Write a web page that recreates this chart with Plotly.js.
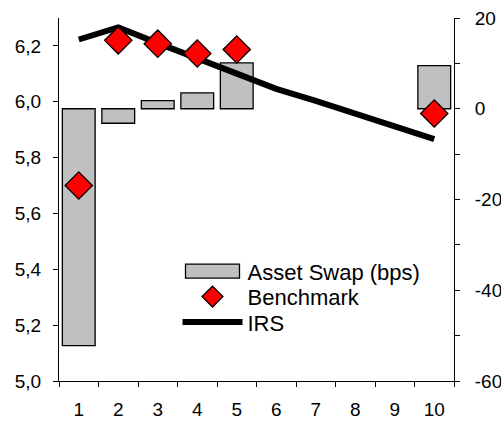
<!DOCTYPE html>
<html>
<head>
<meta charset="utf-8">
<script src="https://cdn.plot.ly/plotly-3.0.1.min.js"></script>
<style>html,body{margin:0;padding:0;background:#fff;}#chart{width:501px;height:423px;}</style>
</head>
<body>
<div id="chart"></div>
<script>
var categories = ['1','2','3','4','5','6','7','8','9','10'];
var assetSwap = [-52.2, -3.2, 1.8, 3.5, 10.1, null, null, null, null, 9.5];
var benchmark = [5.70, 6.22, 6.208, 6.173, 6.187, null, null, null, null, 5.958];
var irs = [6.223, 6.266, 6.21, 6.154, 6.099, 6.046, 6.003, 5.958, 5.912, 5.866];
var rightTicks = [-60, -50, -40, -30, -20, -10, 0, 10, 20];
var rightTickText = ['-60', '', '-40', '', '-20', '', '0', '', '20'];

var font = 'Liberation Sans, Arial, sans-serif';

var traces = [
  {
    type: 'bar', name: 'Asset Swap (bps)', x: categories, y: assetSwap,
    xaxis: 'x', yaxis: 'y',
    marker: {color: '#c0c0c0', line: {color: '#000', width: 1.3}},
    legendrank: 1
  },
  {
    type: 'scatter', mode: 'lines', name: 'IRS', x: categories, y: irs,
    xaxis: 'x', yaxis: 'y2',
    line: {color: '#000', width: 6},
    legendrank: 3
  },
  {
    type: 'scatter', mode: 'markers', name: 'Benchmark', x: categories, y: benchmark,
    xaxis: 'x', yaxis: 'y2',
    marker: {symbol: 'diamond', size: 21, color: '#ff0000', line: {color: '#000', width: 1.3}},
    legendrank: 2
  }
];

var layout = {
  width: 501, height: 423,
  margin: {l: 59, r: 47, t: 18, b: 42},
  paper_bgcolor: '#fff', plot_bgcolor: '#fff',
  separators: ',.',
  font: {family: font, size: 19, color: '#000'},
  bargap: 0.17,
  showlegend: true,
  legend: {
    x: 0.3, y: 0.36, xanchor: 'left', yanchor: 'top',
    bgcolor: 'rgba(0,0,0,0)', borderwidth: 0,
    font: {family: font, size: 22, color: '#000'},
    itemwidth: 60, tracegroupgap: 0
  },
  xaxis: {
    type: 'category', categoryorder: 'array', categoryarray: categories,
    range: [-0.5, 9.5], fixedrange: true,
    showgrid: false, zeroline: false,
    showline: true, linecolor: '#000', linewidth: 1,
    ticks: 'outside', ticklen: 5, tickcolor: '#000', tickson: 'boundaries',
    ticklabelstandoff: 11,
    tickfont: {family: font, size: 19}
  },
  yaxis: {
    side: 'right', range: [-60, 20],
    tickvals: rightTicks, ticktext: rightTickText,
    showgrid: false, zeroline: false,
    showline: true, linecolor: '#000', linewidth: 1,
    ticks: 'outside', ticklen: 5, tickcolor: '#000',
    ticklabelstandoff: 11,
    tickfont: {family: font, size: 19}
  },
  yaxis2: {
    overlaying: 'y', side: 'left', range: [5.0, 6.3],
    tick0: 5.0, dtick: 0.2, tickformat: '.1f',
    showgrid: false, zeroline: false,
    showline: true, linecolor: '#000', linewidth: 1,
    ticks: 'outside', ticklen: 5, tickcolor: '#000',
    ticklabelstandoff: 8,
    tickfont: {family: font, size: 19}
  }
};

Plotly.newPlot('chart', traces, layout, {displayModeBar: false, staticPlot: true}).then(function (gd) {
  // widen the bar legend swatch to match the original legend style
  var paths = gd.querySelectorAll('.legend g.legendpoints path');
  paths.forEach(function (p) {
    var d = (p.getAttribute('d') || '').replace(/\s/g, '');
    if (d === 'M6,6H-6V-6H6Z' || p.classList.contains('legendbar')) {
      p.setAttribute('d', 'M27,7H-27V-7H27Z');
    }
  });
  // tighten legend row spacing
  var items = gd.querySelectorAll('.legend g.traces');
  var ys = [];
  items.forEach(function (g) {
    var m = /translate\(([-\d.]+),\s*([-\d.]+)\)/.exec(g.getAttribute('transform') || '');
    ys.push(m ? [parseFloat(m[1]), parseFloat(m[2])] : null);
  });
  if (ys.length > 1 && ys[0] && ys[1]) {
    var step = ys[1][1] - ys[0][1];
    var scale = step ? 25.5 / step : 1;
    items.forEach(function (g, i) {
      if (!ys[i]) return;
      var ny = ys[0][1] + (ys[i][1] - ys[0][1]) * scale;
      g.setAttribute('transform', 'translate(' + ys[i][0] + ',' + ny + ')');
    });
  }
});
</script>
</body>
</html>
